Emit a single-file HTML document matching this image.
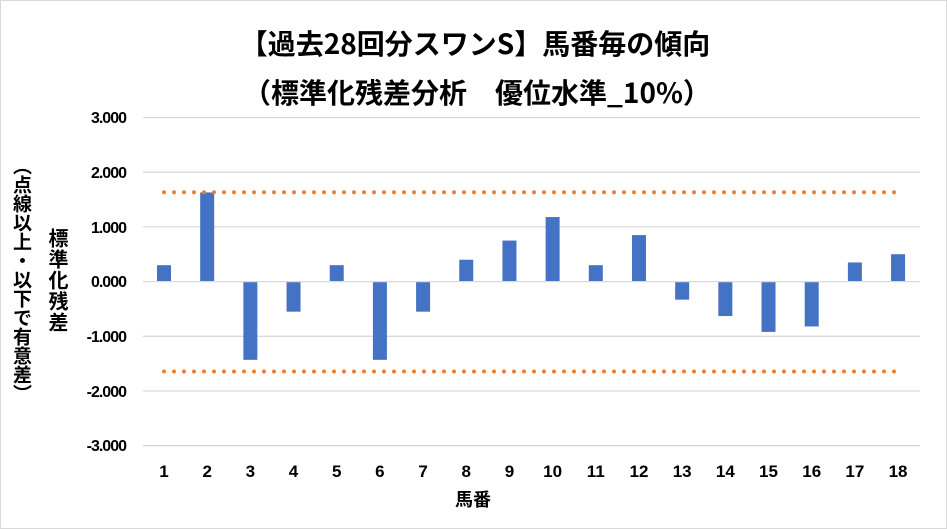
<!DOCTYPE html>
<html><head><meta charset="utf-8"><style>
body{margin:0;background:#fff;}
.wrap{position:relative;width:947px;height:529px;overflow:hidden;font-family:"Liberation Sans","Noto Sans CJK JP",sans-serif;}
.v{position:absolute;writing-mode:vertical-rl;font-weight:bold;color:#000;font-family:"Noto Sans CJK JP",sans-serif;}
</style></head><body><div class="wrap">
<svg width="947" height="529" style="position:absolute;left:0;top:0">
<rect x="0.5" y="0.5" width="946" height="528" fill="#fff" stroke="#d9d9d9"/>
<g font-family="Noto Sans CJK JP,sans-serif" font-weight="bold" text-anchor="middle" fill="#000">
<text x="475" y="54" font-size="28">【過去28回分スワンS】馬番毎の傾向</text>
<text x="477" y="103" font-size="28">（標準化残差分析　優位水準_10%）</text>
</g>
<g stroke="#d9d9d9" stroke-width="1.3">
<line x1="143" x2="920" y1="117.5" y2="117.5"/><line x1="143" x2="920" y1="172.2" y2="172.2"/>
<line x1="143" x2="920" y1="226.9" y2="226.9"/><line x1="143" x2="920" y1="336.3" y2="336.3"/>
<line x1="143" x2="920" y1="391" y2="391"/><line x1="143" x2="920" y1="445.7" y2="445.7"/>
</g>
<g font-family="Liberation Sans,sans-serif" font-weight="bold" font-size="16" text-anchor="end" letter-spacing="-1" fill="#000">
<text x="126" y="123">3.000</text><text x="126" y="178">2.000</text><text x="126" y="233">1.000</text>
<text x="126" y="287">0.000</text><text x="126" y="342">-1.000</text><text x="126" y="397">-2.000</text><text x="126" y="451">-3.000</text>
</g>
<g fill="#4472c4" id="bars"></g>
<line x1="143" x2="920" y1="281.6" y2="281.6" stroke="#d9d9d9" stroke-width="1.3"/>
<g stroke="#ed7d31" stroke-width="4" stroke-linecap="round" stroke-dasharray="0 10">
<line x1="164" x2="900" y1="192.3" y2="192.3"/><line x1="164" x2="900" y1="371.5" y2="371.5"/>
</g>
<g id="xl" font-family="Liberation Sans,sans-serif" font-weight="bold" font-size="17" text-anchor="middle" fill="#000"></g>
<text x="473" y="506" font-family="Noto Sans CJK JP,sans-serif" font-weight="bold" font-size="18" text-anchor="middle">馬番</text>
</svg>
<div class="v" style="left:9px;top:156px;font-size:19px;line-height:26px;letter-spacing:0px">（点線以上・以下で有意差）</div>
<div class="v" style="left:46px;top:228px;font-size:20px;line-height:24px;letter-spacing:1px">標準化残差</div>
<script>
var v=[0.3,1.63,-1.43,-0.55,0.3,-1.43,-0.55,0.4,0.75,1.18,0.3,0.85,-0.33,-0.63,-0.92,-0.82,0.35,0.5];
var b="",l="",u=54.7,z=281.6;
v.forEach(function(d,i){var cx=164+i*43.18,h=Math.abs(d)*u;
b+='<rect x="'+(cx-7)+'" y="'+(d>0?z-h:z)+'" width="14" height="'+h+'"/>';
l+='<text x="'+cx+'" y="477">'+(i+1)+'</text>';});
document.getElementById('bars').innerHTML=b;document.getElementById('xl').innerHTML=l;
</script>
</div></body></html>
